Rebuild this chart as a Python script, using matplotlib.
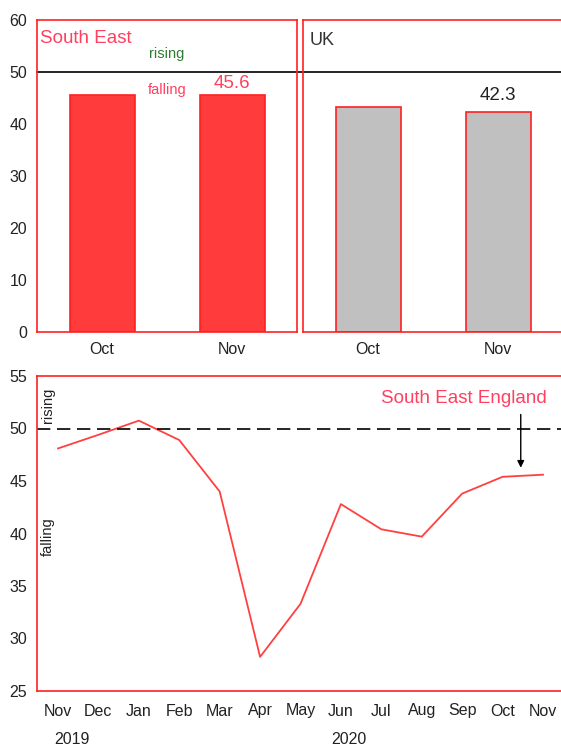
import matplotlib
matplotlib.use("Agg")
import matplotlib.pyplot as plt
import matplotlib.transforms as mtransforms

plt.rcParams['font.family'] = ['Liberation Sans', 'DejaVu Sans']

# ---- data ----
bar_months = ["Oct", "Nov"]
south_east_bars = [45.5, 45.6]
uk_bars = [43.2, 42.3]

line_months = ["Nov", "Dec", "Jan", "Feb", "Mar", "Apr", "May", "Jun",
               "Jul", "Aug", "Sep", "Oct", "Nov"]
south_east_line = [48.1, 49.4, 50.75, 48.9, 44.0, 28.25, 33.3, 42.8,
                   40.4, 39.7, 43.8, 45.4, 45.6]
years = ["2019", "2020"]

RED = "#ff2020"
BAR_RED = "#ff3b3b"
TXT_RED = "#ff4060"
GREY = "#c0c0c0"

W, H = 561, 748
fig = plt.figure(figsize=(W / 100, H / 100), dpi=100)


def frac(x0, y0, x1, y1):
    return [x0 / W, 1 - y1 / H, (x1 - x0) / W, (y1 - y0) / H]


def style(ax):
    for s in ax.spines.values():
        s.set_color(RED)
        s.set_linewidth(1.2)
    ax.tick_params(length=0, labelsize=11.5, colors="#222222", pad=7)


# ---- top left: South East ----
ax1 = fig.add_axes(frac(37, 20, 297, 332))
style(ax1)
x = list(range(len(bar_months)))
ax1.bar(x, south_east_bars, width=0.5, color=BAR_RED, edgecolor=RED, linewidth=1.2)
ax1.set_xlim(-0.5, 1.5)
ax1.set_ylim(0, 60)
ax1.set_yticks(range(0, 61, 10))
ax1.set_xticks(x)
ax1.set_xticklabels(bar_months)
ax1.axhline(50, color="black", lw=1.2, xmax=1.025, clip_on=False, zorder=1)
ax1.text(0.01, 0.968, "South East", transform=ax1.transAxes, color=TXT_RED,
         fontsize=13.5, va="top", ha="left")
ax1.text(0.5, 53.4, "rising", color="#2e7d32", fontsize=10.5, ha="center", va="center")
ax1.text(0.5, 46.6, "falling", color=TXT_RED, fontsize=10.5, ha="center", va="center")
ax1.text(1, south_east_bars[1] + 0.5, f"{south_east_bars[1]:.1f}", color=TXT_RED,
         fontsize=13.5, ha="center", va="bottom")

# ---- top right: UK ----
ax2 = fig.add_axes(frac(303, 20, 563, 332))
style(ax2)
ax2.bar(x, uk_bars, width=0.5, color=GREY, edgecolor=RED, linewidth=1.2)
ax2.set_xlim(-0.5, 1.5)
ax2.set_ylim(0, 60)
ax2.set_yticks([])
ax2.set_xticks(x)
ax2.set_xticklabels(bar_months)
ax2.axhline(50, color="black", lw=1.2, zorder=1)
ax2.text(0.025, 0.96, "UK", transform=ax2.transAxes, color="#333333",
         fontsize=13, va="top", ha="left")
ax2.text(1, uk_bars[1] + 1.6, f"{uk_bars[1]:.1f}", color="#222222",
         fontsize=13.5, ha="center", va="bottom")

# ---- bottom: line ----
ax3 = fig.add_axes(frac(37, 376, 564, 691))
style(ax3)
xl = list(range(len(line_months)))
ax3.plot(xl, south_east_line, color="#ff4040", lw=1.3)
ax3.axhline(50, color="black", lw=1.2, dashes=(8, 4))
ax3.set_xlim(-0.52, 12.52)
ax3.set_ylim(25, 55)
ax3.set_yticks(range(25, 56, 5))
ax3.set_xticks(xl)
ax3.set_xticklabels(line_months)
ax3.tick_params(axis="x", pad=9)
ax3.text(-0.25, 52.2, "rising", rotation=90, fontsize=10.5, color="#222222",
         ha="center", va="center")
ax3.text(-0.25, 39.7, "falling", rotation=90, fontsize=10.5, color="#222222",
         ha="center", va="center")
ax3.text(12.1, 52.9, "South East England", color=TXT_RED, fontsize=13.5,
         ha="right", va="center")
ax3.annotate("", xy=(11.45, 46.0), xytext=(11.45, 51.6),
             arrowprops=dict(arrowstyle="-|>", color="black", lw=1.0,
                             mutation_scale=10))
trans = mtransforms.blended_transform_factory(ax3.transData, ax3.transAxes)
ax3.text(0.35, -0.155, years[0], transform=trans, fontsize=11.5,
         color="#222222", ha="center", va="center")
ax3.text(7.2, -0.155, years[1], transform=trans, fontsize=11.5,
         color="#222222", ha="center", va="center")

fig.savefig("out.png", dpi=100)
